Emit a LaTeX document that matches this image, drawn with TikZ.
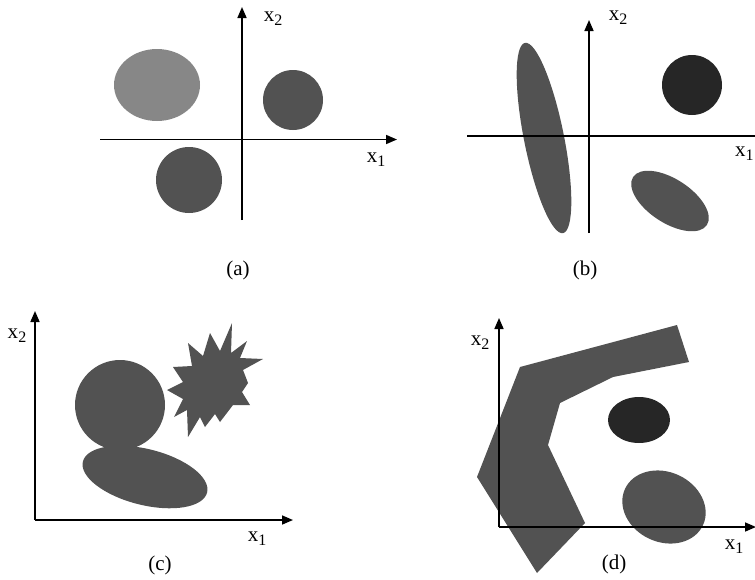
\documentclass[tikz,border=0pt]{standalone}
\usepackage{fontspec}
\setmainfont{Liberation Serif}
\usetikzlibrary{arrows.meta}
\newcommand{\xlab}[1]{x\raisebox{-0.45ex}{\fontsize{16}{16}\selectfont #1}}
\begin{document}
\begin{tikzpicture}[x=1pt,y=-1pt,
  axis/.style={line width=1.6pt,-{Triangle[length=11pt,width=9pt]}},
  lab/.style={font=\fontsize{21}{23}\selectfont, inner sep=0pt},
  darkfill/.style={fill=black!68},
  lightfill/.style={fill=black!47},
  blackfill/.style={fill=black!85}]
\useasboundingbox (0,0) rectangle (755,579);

% ---------- (a)
\fill[lightfill] (157,85) ellipse (43pt and 36pt);
\fill[darkfill] (293,100) circle (30pt);
\fill[darkfill] (189,180) circle (33pt);
\coordinate (a-yb) at (242,220); \coordinate (a-yt) at (242,7);
\coordinate (a-xl) at (100,139.5); \coordinate (a-xr) at (397,139.5);
\draw[axis] (a-yb) -- (a-yt);
\draw[axis] (a-xl) -- (a-xr);
\node[lab] (a-x2) at (273,19) {\xlab{2}};
\node[lab] (a-x1) at (376,160) {\xlab{1}};
\node[lab] (a-cap) at (238,270) {(a)};

% ---------- (b)
\fill[darkfill, shift={(544,138)}, rotate=11.3] (0,0) ellipse (20pt and 97pt);
\fill[blackfill] (692,85) circle (30pt);
\fill[darkfill, shift={(670,201)}, rotate=-33] (0,0) ellipse (44pt and 22pt);
\coordinate (b-yb) at (589,233); \coordinate (b-yt) at (589,20);
\coordinate (b-xl) at (467,136); \coordinate (b-xr) at (766,136);
\draw[axis] (b-yb) -- (b-yt);
\draw[axis] (b-xl) -- (b-xr);
\node[lab] (b-x2) at (618,18) {\xlab{2}};
\node[lab, anchor=west] (b-x1) at (735,154) {\xlab{1}};
\node[lab] (b-cap) at (585,270) {(b)};

% ---------- (c)
\fill[darkfill, shift={(145,477)}, rotate=-14] (0,0) ellipse (64pt and 28pt);
\fill[darkfill] (120,405) circle (45pt);
\fill[darkfill] (232,323) -- (231,353) -- (247,341) -- (240,358) -- (263,359)
  -- (243,370) -- (248,383) -- (242,392) -- (250,405) -- (233,405)
  -- (220,422) -- (215,414) -- (205,427) -- (200,417) -- (188,437)
  -- (187,410) -- (174,417) -- (183,399) -- (167,390) -- (183,382)
  -- (173,367) -- (192,366) -- (188,343) -- (203,356) -- (210,333)
  -- (220,351) -- cycle;
\coordinate (c-o) at (35,520); \coordinate (c-yt) at (35,311);
\coordinate (c-xr) at (293,520);
\draw[axis] (c-o) -- (c-yt);
\draw[axis] (c-o) -- (c-xr);
\node[lab] (c-x2) at (17,336) {\xlab{2}};
\node[lab] (c-x1) at (257,539) {\xlab{1}};
\node[lab] (c-cap) at (160,565) {(c)};

% ---------- (d)
\fill[darkfill] (520,367) -- (677,325) -- (689,362) -- (613,377) -- (560,403)
  -- (548,445) -- (585,523) -- (537,573) -- (477,477) -- cycle;
\fill[blackfill] (639,420) ellipse (31pt and 23pt);
\fill[darkfill, shift={(664,507)}, rotate=-25] (0,0) ellipse (43pt and 35pt);
\coordinate (d-o) at (499,527); \coordinate (d-yt) at (499,318);
\coordinate (d-xr) at (756,527);
\draw[axis] (d-o) -- (d-yt);
\draw[axis] (d-o) -- (d-xr);
\node[lab] (d-x2) at (480,343) {\xlab{2}};
\node[lab] (d-x1) at (734,547) {\xlab{1}};
\node[lab] (d-cap) at (614,564) {(d)};
\end{tikzpicture}
\end{document}
